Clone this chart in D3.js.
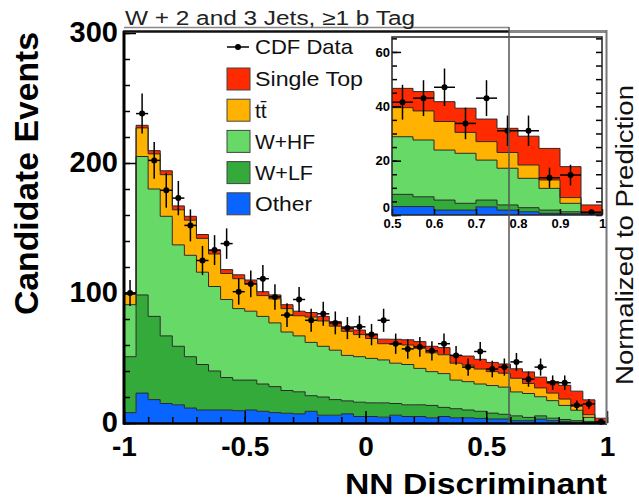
<!DOCTYPE html>
<html>
<head>
<meta charset="utf-8">
<script src="https://cdn.jsdelivr.net/npm/d3@7"></script>
<style>
  body { margin: 0; background: #fff; }
  svg { display: block; font-family: "Liberation Sans", Arial, Helvetica, sans-serif; }
</style>
</head>
<body>
<div id="chart"></div>
<script>
// --- values (40 bins of 0.05 from -1 to 1) ---
const other = [8, 23, 18, 15, 14, 11.5, 10, 10, 10, 9.5, 10, 9, 8, 7.5, 7, 9, 6, 6, 7, 5,
               5, 4.5, 6, 5, 5, 4, 5, 4, 4, 3.5, 3.1, 3.1, 1.8, 1.8, 3.0, 1.8, 1.2, 0.6, 0.5, 0.2];
const wlf = [43, 75.5, 64, 52, 45, 39.5, 35, 30, 25, 23.5, 23, 21, 20, 17.5, 17, 12, 14, 12, 10, 11,
             10.5, 11, 9, 9, 9, 9.5, 7, 7, 6, 5.5, 4.5, 3.6, 3.7, 2.5, 2.5, 1.9, 1.5, 1.2, 0.7, 0.2];
const whf = [40, 106.5, 98, 92, 78, 78, 71, 65, 60, 55, 53, 52, 49, 45, 43, 41, 39, 38, 35, 35,
             34.2, 33, 31, 31, 28, 26, 26, 22, 21.8, 21, 21.2, 20.9, 18.4, 18.4, 14.7, 13.5, 10.8, 8.0, 3.1, 0.2];
const ttbar = [8, 22, 27, 32, 27, 27, 26, 25, 20, 23, 21, 16, 18.5, 18, 15.5, 19.5, 19.5, 18.5, 18.5, 17,
               15.3, 12.5, 14.5, 15, 15.5, 14.5, 14.5, 13, 12.7, 11.5, 10.7, 10.7, 10.5, 7.7, 6.8, 5.8, 4.9, 3.1, 2.1, 0.4];
const singleTop = [1, 2, 2.5, 3, 3, 3, 3, 3, 3, 3, 3, 3, 3, 3, 3.5, 3.5, 3.5, 3.5, 3.5, 3.5,
                   3.5, 3.5, 3.9, 4, 5.1, 5, 5.5, 6, 7, 7.5, 7.1, 7.1, 7.3, 8.9, 8.3, 8.9, 10.6, 11.6, 11.4, 2.7];
const cdfData = [100, 238, 202, 179, 173, 152, 125, 133, 138, 101, 107, 111, 97, 83, 95, 79, 84, 77, 73, 74,
                 68, 79, 61, 57, 58.5, 55.5, 61, 52, 43, 55, 41.5, 43, 47, 33.7, 43, 31, 31, 13.7, 14.7, 1];
const cdfErr = [10, 15.4, 14.2, 13.4, 13.2, 12.3, 11.2, 11.5, 11.7, 10, 10.3, 10.5, 9.8, 9.1, 9.7, 8.9, 9.2, 8.8, 8.5, 8.6,
                8.2, 8.9, 7.8, 7.5, 7.6, 7.4, 7.8, 7.2, 6.6, 7.4, 6.4, 6.6, 6.9, 5.8, 6.6, 5.6, 5.6, 3.7, 3.8, 1];

const legendKeys = ["stop", "tt", "whf", "wlf", "other"];
const legendLabels = ["Single Top", "tt\u0304", "W+HF", "W+LF", "Other"];
const mainYTicks = [0, 100, 200, 300];
const mainXTicks = [-1, -0.5, 0, 0.5, 1];
const insetYTicks = [0, 20, 40, 60];
const insetXTicks = [0.5, 0.6, 0.7, 0.8, 0.9, 1];

const colors = {stop: "#ff2a00", tt: "#ffb300", whf: "#66d966", wlf: "#33aa3a", other: "#0a64ff"};
const keys = ["other", "wlf", "whf", "tt", "stop"];

const width = 639, height = 501;
const binWidth = 0.05;

const rows = cdfData.map((v, i) => ({
    lo: -1 + i * binWidth,
    hi: -1 + (i + 1) * binWidth,
    other: other[i], wlf: wlf[i], whf: whf[i], tt: ttbar[i], stop: singleTop[i],
    data: v, err: cdfErr[i]
}));
const stacked = d3.stack().keys(keys)(rows);

const svg = d3.select("#chart").append("svg")
    .attr("width", width)
    .attr("height", height);

// main scales
const x = d3.scaleLinear().domain([-1, 1]).range([124, 607]);
const y = d3.scaleLinear().domain([0, 300]).range([423, 33]);

// inset scales
const xi = d3.scaleLinear().domain([0.5, 1]).range([392, 602]);
const yi = d3.scaleLinear().domain([0, 65.5]).range([215, 37]);

// --- stacked step histogram + data points ---
function drawHist(g, xs, ys, keep, dotR) {
    const area = d3.area().x(p => xs(p.x)).y0(p => ys(p.y0)).y1(p => ys(p.y1));
    const line = d3.line().x(p => xs(p.x)).y(p => ys(p.y1));
    const layers = stacked.map(layer => ({
        key: layer.key,
        pts: layer.filter(d => keep(d.data)).flatMap(d => [
            {x: d.data.lo, y0: d[0], y1: d[1]},
            {x: d.data.hi, y0: d[0], y1: d[1]}
        ])
    }));
    g.selectAll("path.fill").data(layers).join("path")
        .attr("class", "fill")
        .attr("d", d => area(d.pts))
        .attr("fill", d => colors[d.key]);
    g.selectAll("path.edge").data(layers).join("path")
        .attr("class", "edge")
        .attr("d", d => line(d.pts))
        .attr("fill", "none")
        .attr("stroke", "#2a2a2a")
        .attr("stroke-width", 1);

    const pts = rows.filter(keep);
    const dg = g.append("g").attr("stroke", "#000").attr("stroke-width", 1.5);
    dg.selectAll("line.ey").data(pts).join("line")
        .attr("x1", d => xs((d.lo + d.hi) / 2)).attr("x2", d => xs((d.lo + d.hi) / 2))
        .attr("y1", d => ys(Math.max(0, d.data - d.err))).attr("y2", d => ys(d.data + d.err));
    dg.selectAll("line.ex").data(pts).join("line")
        .attr("x1", d => xs(d.lo)).attr("x2", d => xs(d.hi))
        .attr("y1", d => ys(d.data)).attr("y2", d => ys(d.data));
    g.append("g").selectAll("circle").data(pts).join("circle")
        .attr("cx", d => xs((d.lo + d.hi) / 2))
        .attr("cy", d => ys(d.data))
        .attr("r", dotR)
        .attr("fill", "#000");
}

drawHist(svg.append("g"), x, y, d => true, 3);

// --- main axes ---
function styleAxis(g, size, weight) {
    g.select(".domain").remove();
    g.attr("font-family", null).attr("font-size", size).attr("font-weight", weight);
    g.selectAll("line").attr("stroke", "#000").attr("stroke-width", 1.5);
    g.selectAll("text").attr("fill", "#000");
}

svg.append("g").attr("transform", "translate(124,0)")
    .call(d3.axisLeft(y).tickValues(d3.range(0, 301, 20)).tickSize(-6).tickFormat(""))
    .call(g => styleAxis(g, 10, "normal"));
svg.append("g").attr("transform", "translate(124,0)")
    .call(d3.axisLeft(y).tickValues(mainYTicks).tickSize(-12).tickPadding(6).tickFormat(d3.format("d")))
    .call(g => styleAxis(g, 29, "bold"))
    .call(g => g.selectAll("text").attr("dy", "0.3em"));

svg.append("g").attr("transform", "translate(0,423)")
    .call(d3.axisBottom(x).tickValues(d3.range(-10, 11, 1).map(v => v / 10)).tickSize(-6).tickFormat(""))
    .call(g => styleAxis(g, 10, "normal"));
svg.append("g").attr("transform", "translate(0,423)")
    .call(d3.axisBottom(x).tickValues(mainXTicks).tickSize(-12).tickPadding(13).tickFormat(d => String(d)))
    .call(g => styleAxis(g, 28, "bold"));

// frame
svg.append("line").attr("x1", 124).attr("x2", 124).attr("y1", 31).attr("y2", 424.5)
    .attr("stroke", "#000").attr("stroke-width", 3);
svg.append("line").attr("x1", 123).attr("x2", 607).attr("y1", 423.5).attr("y2", 423.5)
    .attr("stroke", "#000").attr("stroke-width", 2.5);
svg.append("line").attr("x1", 123).attr("x2", 509).attr("y1", 31.5).attr("y2", 31.5)
    .attr("stroke", "#111").attr("stroke-width", 2.5);
svg.append("line").attr("x1", 509).attr("x2", 607).attr("y1", 31.5).attr("y2", 31.5)
    .attr("stroke", "#888").attr("stroke-width", 3);
svg.append("line").attr("x1", 606.5).attr("x2", 606.5).attr("y1", 30).attr("y2", 424)
    .attr("stroke", "#777").attr("stroke-width", 2);

// --- inset ---
svg.append("rect").attr("x", 372).attr("y", 34).attr("width", 233).attr("height", 196).attr("fill", "#fff");
const ig = svg.append("g");
drawHist(ig, xi, yi, d => d.lo >= 0.5 - 1e-9, 3);

svg.append("g").attr("transform", "translate(392,0)")
    .call(d3.axisLeft(yi).tickValues(d3.range(0, 66, 5)).tickSize(-5).tickFormat(""))
    .call(g => styleAxis(g, 10, "normal"));
svg.append("g").attr("transform", "translate(392,0)")
    .call(d3.axisLeft(yi).tickValues(insetYTicks).tickSize(-9).tickPadding(2).tickFormat(d3.format("d")))
    .call(g => styleAxis(g, 13, "bold"))
    .call(g => g.selectAll("text").attr("dy", d => d === 0 ? "-0.25em" : "0.32em"));
svg.append("g").attr("transform", "translate(602,0)")
    .call(d3.axisRight(yi).tickValues(d3.range(0, 66, 5)).tickSize(-6).tickFormat(""))
    .call(g => styleAxis(g, 10, "normal"));
svg.append("g").attr("transform", "translate(0,215)")
    .call(d3.axisBottom(xi).tickValues(insetXTicks).tickSize(-6).tickPadding(4).tickFormat(d => String(d)))
    .call(g => styleAxis(g, 13, "bold"));
svg.append("rect").attr("x", 392).attr("y", 37).attr("width", 210).attr("height", 178)
    .attr("fill", "none").attr("stroke", "#222").attr("stroke-width", 1.5);

// overlay lines of the original figure
svg.append("line").attr("x1", 124).attr("x2", 509).attr("y1", 27.5).attr("y2", 27.5)
    .attr("stroke", "#888").attr("stroke-width", 1.5);
svg.append("line").attr("x1", 509).attr("x2", 509).attr("y1", 27).attr("y2", 423)
    .attr("stroke", "#555").attr("stroke-width", 1.5);

// --- legend ---
const lg = svg.append("g");
lg.append("line").attr("x1", 227).attr("x2", 249).attr("y1", 47).attr("y2", 47)
    .attr("stroke", "#000").attr("stroke-width", 1.5);
lg.append("circle").attr("cx", 238).attr("cy", 47).attr("r", 3).attr("fill", "#000");
lg.append("text").attr("x", 255).attr("y", 47).attr("dy", "0.35em")
    .attr("font-size", 21).attr("fill", "#111")
    .attr("textLength", 98).attr("lengthAdjust", "spacingAndGlyphs")
    .text("CDF Data");

const legendLen = [108, null, 60, 58, 57];
legendKeys.forEach((k, i) => {
    const top = 68 + i * 31.2;
    lg.append("rect").attr("x", 227).attr("y", top).attr("width", 23).attr("height", 22)
        .attr("fill", colors[k]).attr("stroke", "#444").attr("stroke-width", 1);
    const t = lg.append("text").attr("x", 255).attr("y", top + 11).attr("dy", "0.35em")
        .attr("font-size", 21).attr("fill", "#111")
        .text(legendLabels[i]);
    if (legendLen[i]) t.attr("textLength", legendLen[i]).attr("lengthAdjust", "spacingAndGlyphs");
});

// --- titles ---
svg.append("text").attr("x", 125).attr("y", 25)
    .attr("font-size", 20).attr("fill", "#222")
    .attr("textLength", 290).attr("lengthAdjust", "spacingAndGlyphs")
    .text("W + 2 and 3 Jets, \u22651 b Tag");

svg.append("text").attr("transform", "translate(38,173.5) rotate(-90)")
    .attr("text-anchor", "middle").attr("font-size", 34).attr("font-weight", "bold")
    .attr("textLength", 283).attr("lengthAdjust", "spacingAndGlyphs")
    .text("Candidate Events");

svg.append("text").attr("x", 607).attr("y", 494).attr("text-anchor", "end")
    .attr("font-size", 30).attr("font-weight", "bold")
    .attr("textLength", 262).attr("lengthAdjust", "spacingAndGlyphs")
    .text("NN Discriminant");

svg.append("text").attr("transform", "translate(633,235) rotate(-90)")
    .attr("text-anchor", "middle").attr("font-size", 23).attr("fill", "#111")
    .attr("textLength", 300).attr("lengthAdjust", "spacingAndGlyphs")
    .text("Normalized to Prediction");
</script>
</body>
</html>
